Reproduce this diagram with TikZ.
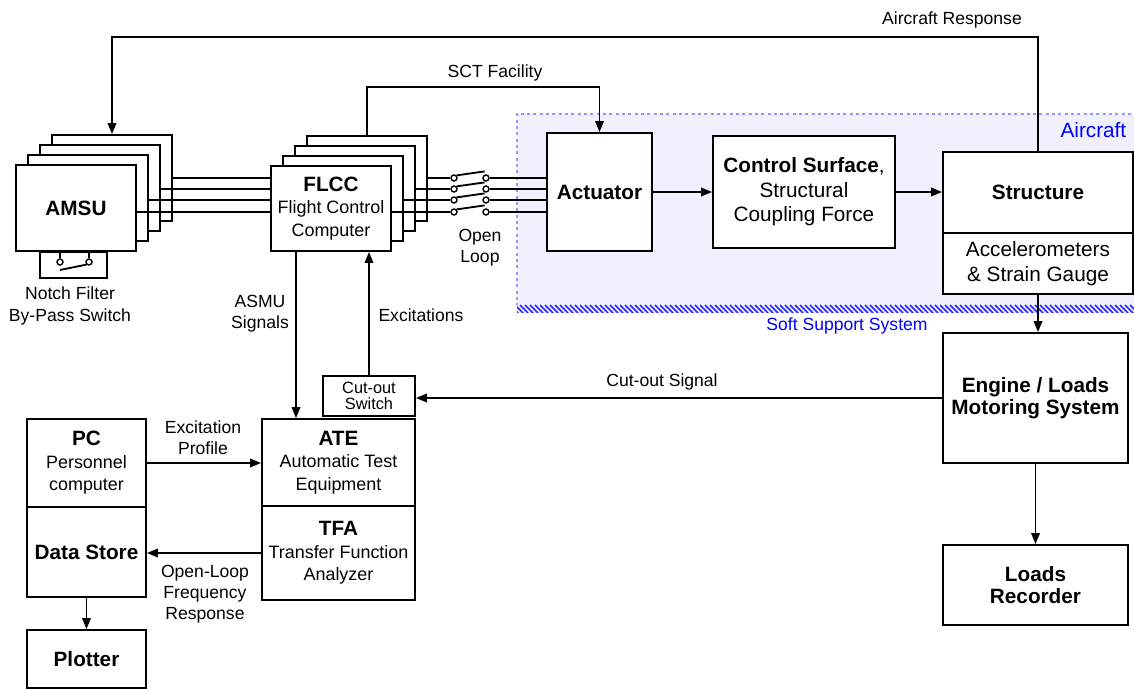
\documentclass[tikz,border=0pt]{standalone}
\usepackage{fontspec}
\setmainfont{Liberation Sans}
\usepackage{xcolor}
\usetikzlibrary{arrows.meta,positioning,calc}

\definecolor{acfill}{RGB}{240,240,255}
\definecolor{acdots}{RGB}{150,150,255}
\definecolor{acblue}{RGB}{0,0,255}
\newcommand{\boxtitle}[1]{{\fontsize{11.8}{14}\selectfont\bfseries #1}}

\begin{document}
\begin{tikzpicture}[x=0.02cm,y=-0.02cm,line width=1.05pt,
  every node/.style={font=\fontsize{10}{12}\selectfont},
  box/.style={draw,rectangle,fill=white,inner sep=0pt,align=center,font=\fontsize{10.2}{12.8}\selectfont},
  acbox/.style={box,font=\fontsize{11.8}{14}\selectfont},
  lbl/.style={align=center,inner sep=0pt},
  arr/.style={-{Triangle[length=2.2mm,width=1.7mm]}},
  contact/.style={draw,circle,fill=white,inner sep=0pt,minimum size=1.2mm,line width=0.8pt}]

\path[use as bounding box] (0,0) rectangle (1134,689);
\clip (0,0) rectangle (1134,689);

% Aircraft area with soft support
\fill[acfill] (517,114) rectangle (1150,305);
\draw[acdots,line width=1.7pt,dash pattern=on 1.7pt off 1.9pt] (1150,114) -- (517,114) -- (517,305);
\begin{scope}
  \clip (517,305) rectangle (1150,313);
  \fill[acfill] (517,305) rectangle (1150,313);
  \foreach \x in {510,515,...,1150}
    \draw[acblue!85,line width=0.9pt] (\x,305) -- (\x+8,313);
\end{scope}
\node[anchor=east,text=acblue,font=\fontsize{11.8}{14}\selectfont] (acname) at (1133,130) {Aircraft};
\node[text=acblue] (softlbl) at (847,326) {Soft Support System};

% AMSU (stacked channels)
\foreach \k in {3,2,1}
  \node[box,minimum width=2.4cm,minimum height=1.72cm] (amsu\k) at (76+12*\k,208-10*\k) {};
\node[box,minimum width=2.4cm,minimum height=1.72cm] (amsu) at (76,208) {\boxtitle{AMSU}};

\node[box,minimum width=1.34cm,minimum height=0.52cm,anchor=north] (notch) at (73.5,251) {};
\node[contact] (nfa) at (60,262) {};
\node[contact] (nfb) at (89,262) {};
\draw (nfa) -- (nfa |- notch.north);
\draw (nfb) -- (nfb |- notch.north);
\draw (60,270) -- (nfb.south west);
\node[lbl] (notchlbl) at (70,306) {Notch Filter\\By-Pass Switch};

% FLCC (stacked channels)
\foreach \k in {3,2,1}
  \node[box,minimum width=2.4cm,minimum height=1.7cm] (flcc\k) at (331+12*\k,208.5-10*\k) {};
\node[box,minimum width=2.4cm,minimum height=1.7cm] (flcc) at (331,208.5) {\boxtitle{FLCC}\\Flight Control\\Computer};

% Aircraft blocks
\node[acbox,minimum width=2.1cm,minimum height=2.36cm] (act) at (599.5,192) {\boxtitle{Actuator}};
\node[acbox,minimum width=3.64cm,minimum height=2.24cm] (cs) at (804,192) {\boxtitle{Control Surface},\\Structural\\Coupling Force};
\node[acbox,minimum width=3.8cm,minimum height=1.62cm] (struct) at (1038,192.5) {\boxtitle{Structure}};
\node[acbox,minimum width=3.8cm,minimum height=1.22cm] (sens) at (1038,263.5) {Accelerometers\\\& Strain Gauge};

% Ground equipment
\node[box,minimum width=3.7cm,minimum height=2.6cm] (eng) at (1035.5,398) {\boxtitle{Engine / Loads}\\\boxtitle{Motoring System}};
\node[box,minimum width=3.7cm,minimum height=1.6cm] (rec) at (1035.5,585) {\boxtitle{Loads}\\\boxtitle{Recorder}};
\node[box,minimum width=1.84cm,minimum height=0.8cm,font=\fontsize{9.3}{8.7}\selectfont] (cutsw) at (369,396) {Cut-out\\Switch};
\node[box,minimum width=3.06cm,minimum height=1.74cm] (ate) at (338.5,462.5) {\boxtitle{ATE}\\Automatic Test\\Equipment};
\node[box,minimum width=3.06cm,minimum height=1.88cm] (tfa) at (338.5,553) {\boxtitle{TFA}\\Transfer Function\\Analyzer};
\node[box,minimum width=2.38cm,minimum height=1.76cm] (pc) at (86.5,463) {\boxtitle{PC}\\Personnel\\computer};
\node[box,minimum width=2.38cm,minimum height=1.8cm] (store) at (86.5,552) {\boxtitle{Data Store}};
\node[box,minimum width=2.38cm,minimum height=1.16cm] (plot) at (86.5,659) {\boxtitle{Plotter}};

% AMSU to FLCC bus
\foreach \src/\y in {amsu3/178,amsu2/189,amsu1/200,amsu/212}
  \draw (\src.east |- 0,\y) -- (flcc.west |- 0,\y);

% open loop switches FLCC to actuator
\foreach \src/\y [count=\i] in {flcc3/178,flcc2/189,flcc1/200,flcc/212} {
  \node[contact] (swa\i) at (454,\y) {};
  \node[contact] (swb\i) at (486,\y) {};
  \draw (\src.east |- swa\i) -- (swa\i.west);
  \draw (swa\i.north east) -- ++(28,-4);
  \draw (swb\i.east) -- (act.west |- swb\i);
}
\node[lbl] (looplbl) at (480,248) {Open\\Loop};

% connectors
\draw[arr] (struct.north) -- ++(0,-114) -| (amsu3.north);
\node (resplbl) at (952,20) {Aircraft Response};
\draw[arr] (flcc3.north) -- ++(0,-48) -| (act.north);
\node (sctlbl) at (495,73) {SCT Facility};
\draw[arr] (act) -- (act -| cs.west);
\draw[arr] (cs.east) -- (cs.east -| struct.west);
\draw[arr] (sens.south) -- (sens.south |- eng.north);
\draw[arr] (eng) -- (rec);
\draw[arr] (eng.west) -- (eng.west -| cutsw.east);
\node (cutlbl) at (662,382) {Cut-out Signal};
\draw[arr] (cutsw.north) -- (cutsw.north |- flcc.south);
\node[lbl] (exclbl) at (421,315) {Excitations};
\draw[arr] ([xshift=-0.7cm]flcc.south) -- ([xshift=-0.7cm]flcc.south |- ate.north);
\node[lbl] (asmulbl) at (260,314) {ASMU\\Signals};
\draw[arr] (pc.east) -- (pc.east -| ate.west);
\node[lbl] (proflbl) at (203,438) {Excitation\\Profile};
\draw[arr] (tfa.west) -- (tfa.west -| store.east);
\node[lbl] (frlbl) at (205,594) {Open-Loop\\Frequency\\Response};
\draw[arr] (store) -- (plot);

\end{tikzpicture}
\end{document}
